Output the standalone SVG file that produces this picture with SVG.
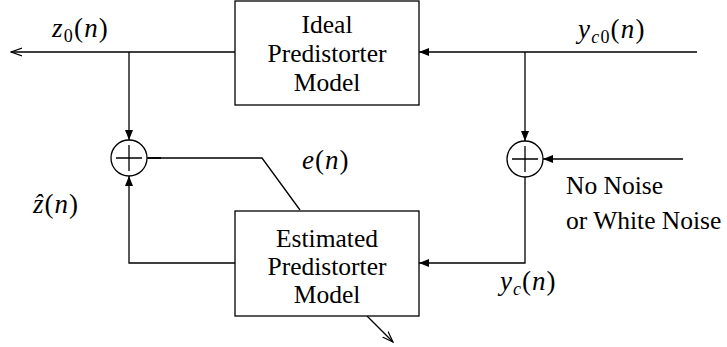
<svg xmlns="http://www.w3.org/2000/svg" width="727" height="347" viewBox="0 0 727 347">
<style>
.ln{fill:none;stroke:#000;stroke-width:1.3}
.bx{fill:#fff;stroke:#000;stroke-width:1.3}
.i{font-style:italic}
.s{font-size:18px}
</style>
<defs>
<marker id="f" viewBox="0 0 10 8" refX="10" refY="4" markerWidth="10" markerHeight="8" markerUnits="userSpaceOnUse" orient="auto">
<path d="M0,0 L10,4 L0,8 Z" fill="#000"/>
</marker>
<marker id="o" viewBox="0 0 12 10" refX="11" refY="5" markerWidth="12" markerHeight="10" markerUnits="userSpaceOnUse" orient="auto">
<path d="M0,1 L11,5 L0,9" fill="none" stroke="#000" stroke-width="1.2"/>
</marker>
</defs>
<g id="connectors">
<line class="ln" x1="235" y1="52" x2="11" y2="52" marker-end="url(#o)"/>
<line class="ln" x1="697" y1="52" x2="419" y2="52" marker-end="url(#f)"/>
<line class="ln" x1="129" y1="52" x2="129" y2="140" marker-end="url(#f)"/>
<line class="ln" x1="525" y1="52" x2="525" y2="141" marker-end="url(#f)"/>
<polyline class="ln" points="147,158 262,158 300,210"/>
<line x1="148" y1="158" x2="161" y2="158" stroke="#000" stroke-width="1.8"/>
<polyline class="ln" points="235,263 129,263 129,176" marker-end="url(#f)"/>
<line class="ln" x1="683" y1="159" x2="543" y2="159" marker-end="url(#f)"/>
<polyline class="ln" points="525,177 525,263 419,263" marker-end="url(#f)"/>
<line class="ln" x1="367" y1="316" x2="393" y2="342" marker-end="url(#o)"/>
</g>
<g id="ideal">
<rect class="bx" x="235" y="1" width="184" height="104"/>
<text font-family="Liberation Serif" font-size="25.5" text-anchor="middle" x="327" y="33">Ideal</text>
<text font-family="Liberation Serif" font-size="25.5" text-anchor="middle" x="327" y="62">Predistorter</text>
<text font-family="Liberation Serif" font-size="25.5" text-anchor="middle" x="327" y="91">Model</text>
</g>
<g id="estimated">
<rect class="bx" x="235" y="211" width="184" height="105"/>
<text font-family="Liberation Serif" font-size="25.5" text-anchor="middle" x="327" y="247">Estimated</text>
<text font-family="Liberation Serif" font-size="25.5" text-anchor="middle" x="327" y="275">Predistorter</text>
<text font-family="Liberation Serif" font-size="25.5" text-anchor="middle" x="327" y="303">Model</text>
</g>
<g id="sum1">
<circle class="ln" cx="129" cy="158" r="18"/>
<path class="ln" d="M116,158 H142 M129,145 V171"/>
</g>
<g id="sum2">
<circle class="ln" cx="525" cy="159" r="18"/>
<path class="ln" d="M512,159 H538 M525,146 V172"/>
</g>
<g id="labels">
<text font-family="Liberation Serif" font-size="27" letter-spacing="1.2" x="52" y="37"><tspan class="i">z</tspan><tspan class="s" dy="5">0</tspan><tspan dy="-5">(</tspan><tspan class="i">n</tspan>)</text>
<text font-family="Liberation Serif" font-size="27" letter-spacing="1.2" x="578" y="38"><tspan class="i">y</tspan><tspan class="s i" dy="5">c</tspan><tspan class="s">0</tspan><tspan dy="-5">(</tspan><tspan class="i">n</tspan>)</text>
<text font-family="Liberation Serif" font-size="27" letter-spacing="1" x="302" y="169"><tspan class="i">e</tspan>(<tspan class="i">n</tspan>)</text>
<text font-family="Liberation Serif" font-size="27" letter-spacing="1" x="33" y="213"><tspan class="i">ẑ</tspan>(<tspan class="i">n</tspan>)</text>
<text font-family="Liberation Serif" font-size="27" letter-spacing="1" x="500" y="290"><tspan class="i">y</tspan><tspan class="s i" dy="5">c</tspan><tspan dy="-5">(</tspan><tspan class="i">n</tspan>)</text>
<text font-family="Liberation Serif" font-size="25.5" x="566" y="194">No Noise</text>
<text font-family="Liberation Serif" font-size="25.5" x="566" y="229">or White Noise</text>
</g>
</svg>
